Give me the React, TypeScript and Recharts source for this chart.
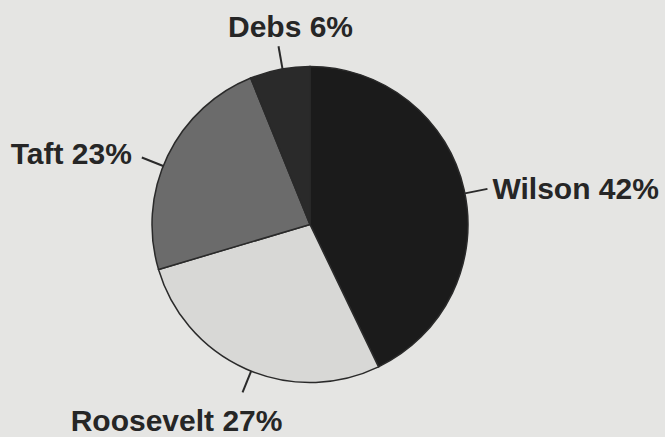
import { PieChart, Pie, Cell } from "recharts";

// 1912 presidential election, popular vote share
const candidates = ["Wilson", "Roosevelt", "Taft", "Debs"];
const shares = [42, 27, 23, 6];
const fills = ["#1b1b1b", "#d8d8d6", "#6b6b6b", "#2a2a2a"];

const data = candidates.map((name, i) => ({ name, value: shares[i] }));

const RADIAN = Math.PI / 180;

// leader line tilt (deg) and where each label sits relative to the line end
const labelLayout: Record<
  string,
  { shift: number; anchor: "start" | "middle" | "end"; dx: number; dy: number }
> = {
  Wilson: { shift: -1.5, anchor: "start", dx: 5, dy: 10 },
  Roosevelt: { shift: 2, anchor: "middle", dx: -66, dy: 39 },
  Taft: { shift: 4, anchor: "end", dx: -10, dy: 6 },
  Debs: { shift: -1, anchor: "middle", dx: 12, dy: -9 },
};

const renderLabel = (props: any) => {
  const { cx, cy, midAngle, outerRadius, name, value } = props;
  const l = labelLayout[name];
  const a = -(midAngle + l.shift) * RADIAN;
  const cos = Math.cos(a);
  const sin = Math.sin(a);
  const x1 = cx + outerRadius * cos;
  const y1 = cy + outerRadius * sin;
  const x2 = cx + (outerRadius + 23) * cos;
  const y2 = cy + (outerRadius + 23) * sin;
  return (
    <g>
      <line x1={x1} y1={y1} x2={x2} y2={y2} stroke="#2a2a2a" strokeWidth={2} />
      <text
        x={x2 + l.dx}
        y={y2 + l.dy}
        textAnchor={l.anchor}
        fill="#262626"
        fontFamily="'Liberation Sans', Arial, sans-serif"
        fontWeight="bold"
        fontSize={30}
      >
        {`${name} ${value}%`}
      </text>
    </g>
  );
};

export default function App() {
  return (
    <div style={{ width: 665, height: 437, background: "#e5e5e3" }}>
      <style>{"body{margin:0}"}</style>
      <PieChart width={665} height={437} margin={{ top: 0, right: 0, bottom: 0, left: 0 }}>
        <Pie
          data={data}
          dataKey="value"
          nameKey="name"
          cx={310}
          cy={224.5}
          outerRadius={158}
          startAngle={90}
          endAngle={-270}
          stroke="#2a2a2a"
          strokeWidth={1.5}
          label={renderLabel}
          labelLine={false}
          isAnimationActive={false}
        >
          {data.map((d, i) => (
            <Cell key={d.name} fill={fills[i]} />
          ))}
        </Pie>
      </PieChart>
    </div>
  );
}
